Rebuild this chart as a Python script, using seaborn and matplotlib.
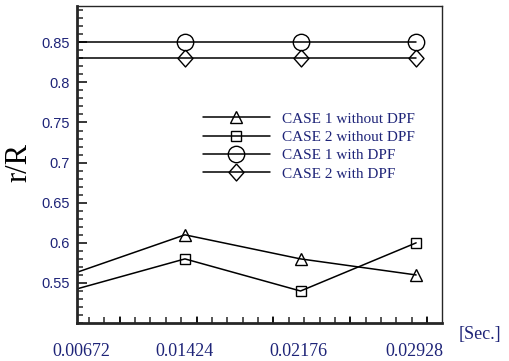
import matplotlib
matplotlib.use('Agg')
import matplotlib.pyplot as plt
import numpy as np
import pandas as pd
import seaborn as sns
from matplotlib.ticker import MultipleLocator

# time steps [Sec.] and r/R values
time = [0.00672, 0.01424, 0.02176, 0.02928]
case1_no_dpf = [0.56, 0.61, 0.58, 0.56]
case2_no_dpf = [0.54, 0.58, 0.54, 0.60]
case1_dpf = [0.85, 0.85, 0.85, 0.85]
case2_dpf = [0.83, 0.83, 0.83, 0.83]
tick_labels = ['0.00672', '0.01424', '0.02176', '0.02928']

# slightly tall diamond like the original
diamond = [(0, 1.13), (1, 0), (0, -1.13), (-1, 0), (0, 1.13)]

series = [
    ('CASE 1 without DPF', case1_no_dpf, '^', 8.8),
    ('CASE 2 without DPF', case2_no_dpf, 's', 7.4),
    ('CASE 1 with DPF', case1_dpf, 'o', 11.8),
    ('CASE 2 with DPF', case2_dpf, diamond, 12.2),
]

sns.set_style('ticks')
navy = '#1e2478'

fig = plt.figure(figsize=(5.09, 3.61), dpi=100)
ax = fig.add_axes([0.151, 0.105, 0.717, 0.878])

for name, vals, mk, ms in series:
    df = pd.DataFrame({'t': time, 'r': vals})
    sns.lineplot(data=df, x='t', y='r', ax=ax, color='black', lw=1.1,
                 marker=mk, markersize=ms, markerfacecolor='none',
                 markeredgecolor='black', markeredgewidth=1.0, label=name)

ax.set_xlim(0.00721, 0.03095)
ax.set_ylim(0.5, 0.895)

# y axis: majors every 0.05, minors every 0.01, pointing in
ax.yaxis.set_minor_locator(MultipleLocator(0.01))
ax.set_yticks(np.arange(0.55, 0.851, 0.05))
ax.set_yticklabels(['0.55', '0.6', '0.65', '0.7', '0.75', '0.8', '0.85'],
                   fontfamily='Liberation Sans', fontsize=10.5, color=navy)
ax.tick_params(axis='y', which='major', direction='in', length=7, width=1.3, pad=5)
ax.tick_params(axis='y', which='minor', direction='in', length=4, width=1.1)

# x axis: tick marks every 0.001 / 0.005, labels at the time steps
ax.xaxis.set_minor_locator(MultipleLocator(0.001))
label_pos = [0.00747, 0.01424, 0.0216, 0.02915]
ax.set_xticks(label_pos)
ax.set_xticklabels(tick_labels, fontfamily='Liberation Serif', fontsize=13, color=navy)
ax.tick_params(axis='x', which='major', length=0, pad=14)
ax.tick_params(axis='x', which='minor', direction='in', length=4, width=1.1)
for t in np.arange(0.010, 0.031, 0.005):
    ax.plot([t, t], [0.5, 0.508], color='black', lw=1.1, clip_on=False)

ax.set_xlabel('')
ax.set_ylabel('r/R', fontfamily='Liberation Serif', fontsize=22, color='black')
ax.yaxis.set_label_coords(-0.12, 0.508)
ax.text(1.105, -0.035, '[Sec.]', transform=ax.transAxes, ha='center', va='center',
        fontfamily='Liberation Serif', fontsize=13, color=navy)

for side in ['left', 'bottom']:
    ax.spines[side].set_linewidth(2.0)
for side in ['top', 'right']:
    ax.spines[side].set_visible(True)
    ax.spines[side].set_linewidth(1.0)

leg = ax.legend(loc='upper left', bbox_to_anchor=(0.324, 0.69), frameon=False,
                handlelength=4.4, handletextpad=0.8, labelspacing=0.3,
                borderpad=0, prop={'family': 'Liberation Serif', 'size': 11})
for txt in leg.get_texts():
    txt.set_color(navy)

fig.savefig('out.png', dpi=100)
